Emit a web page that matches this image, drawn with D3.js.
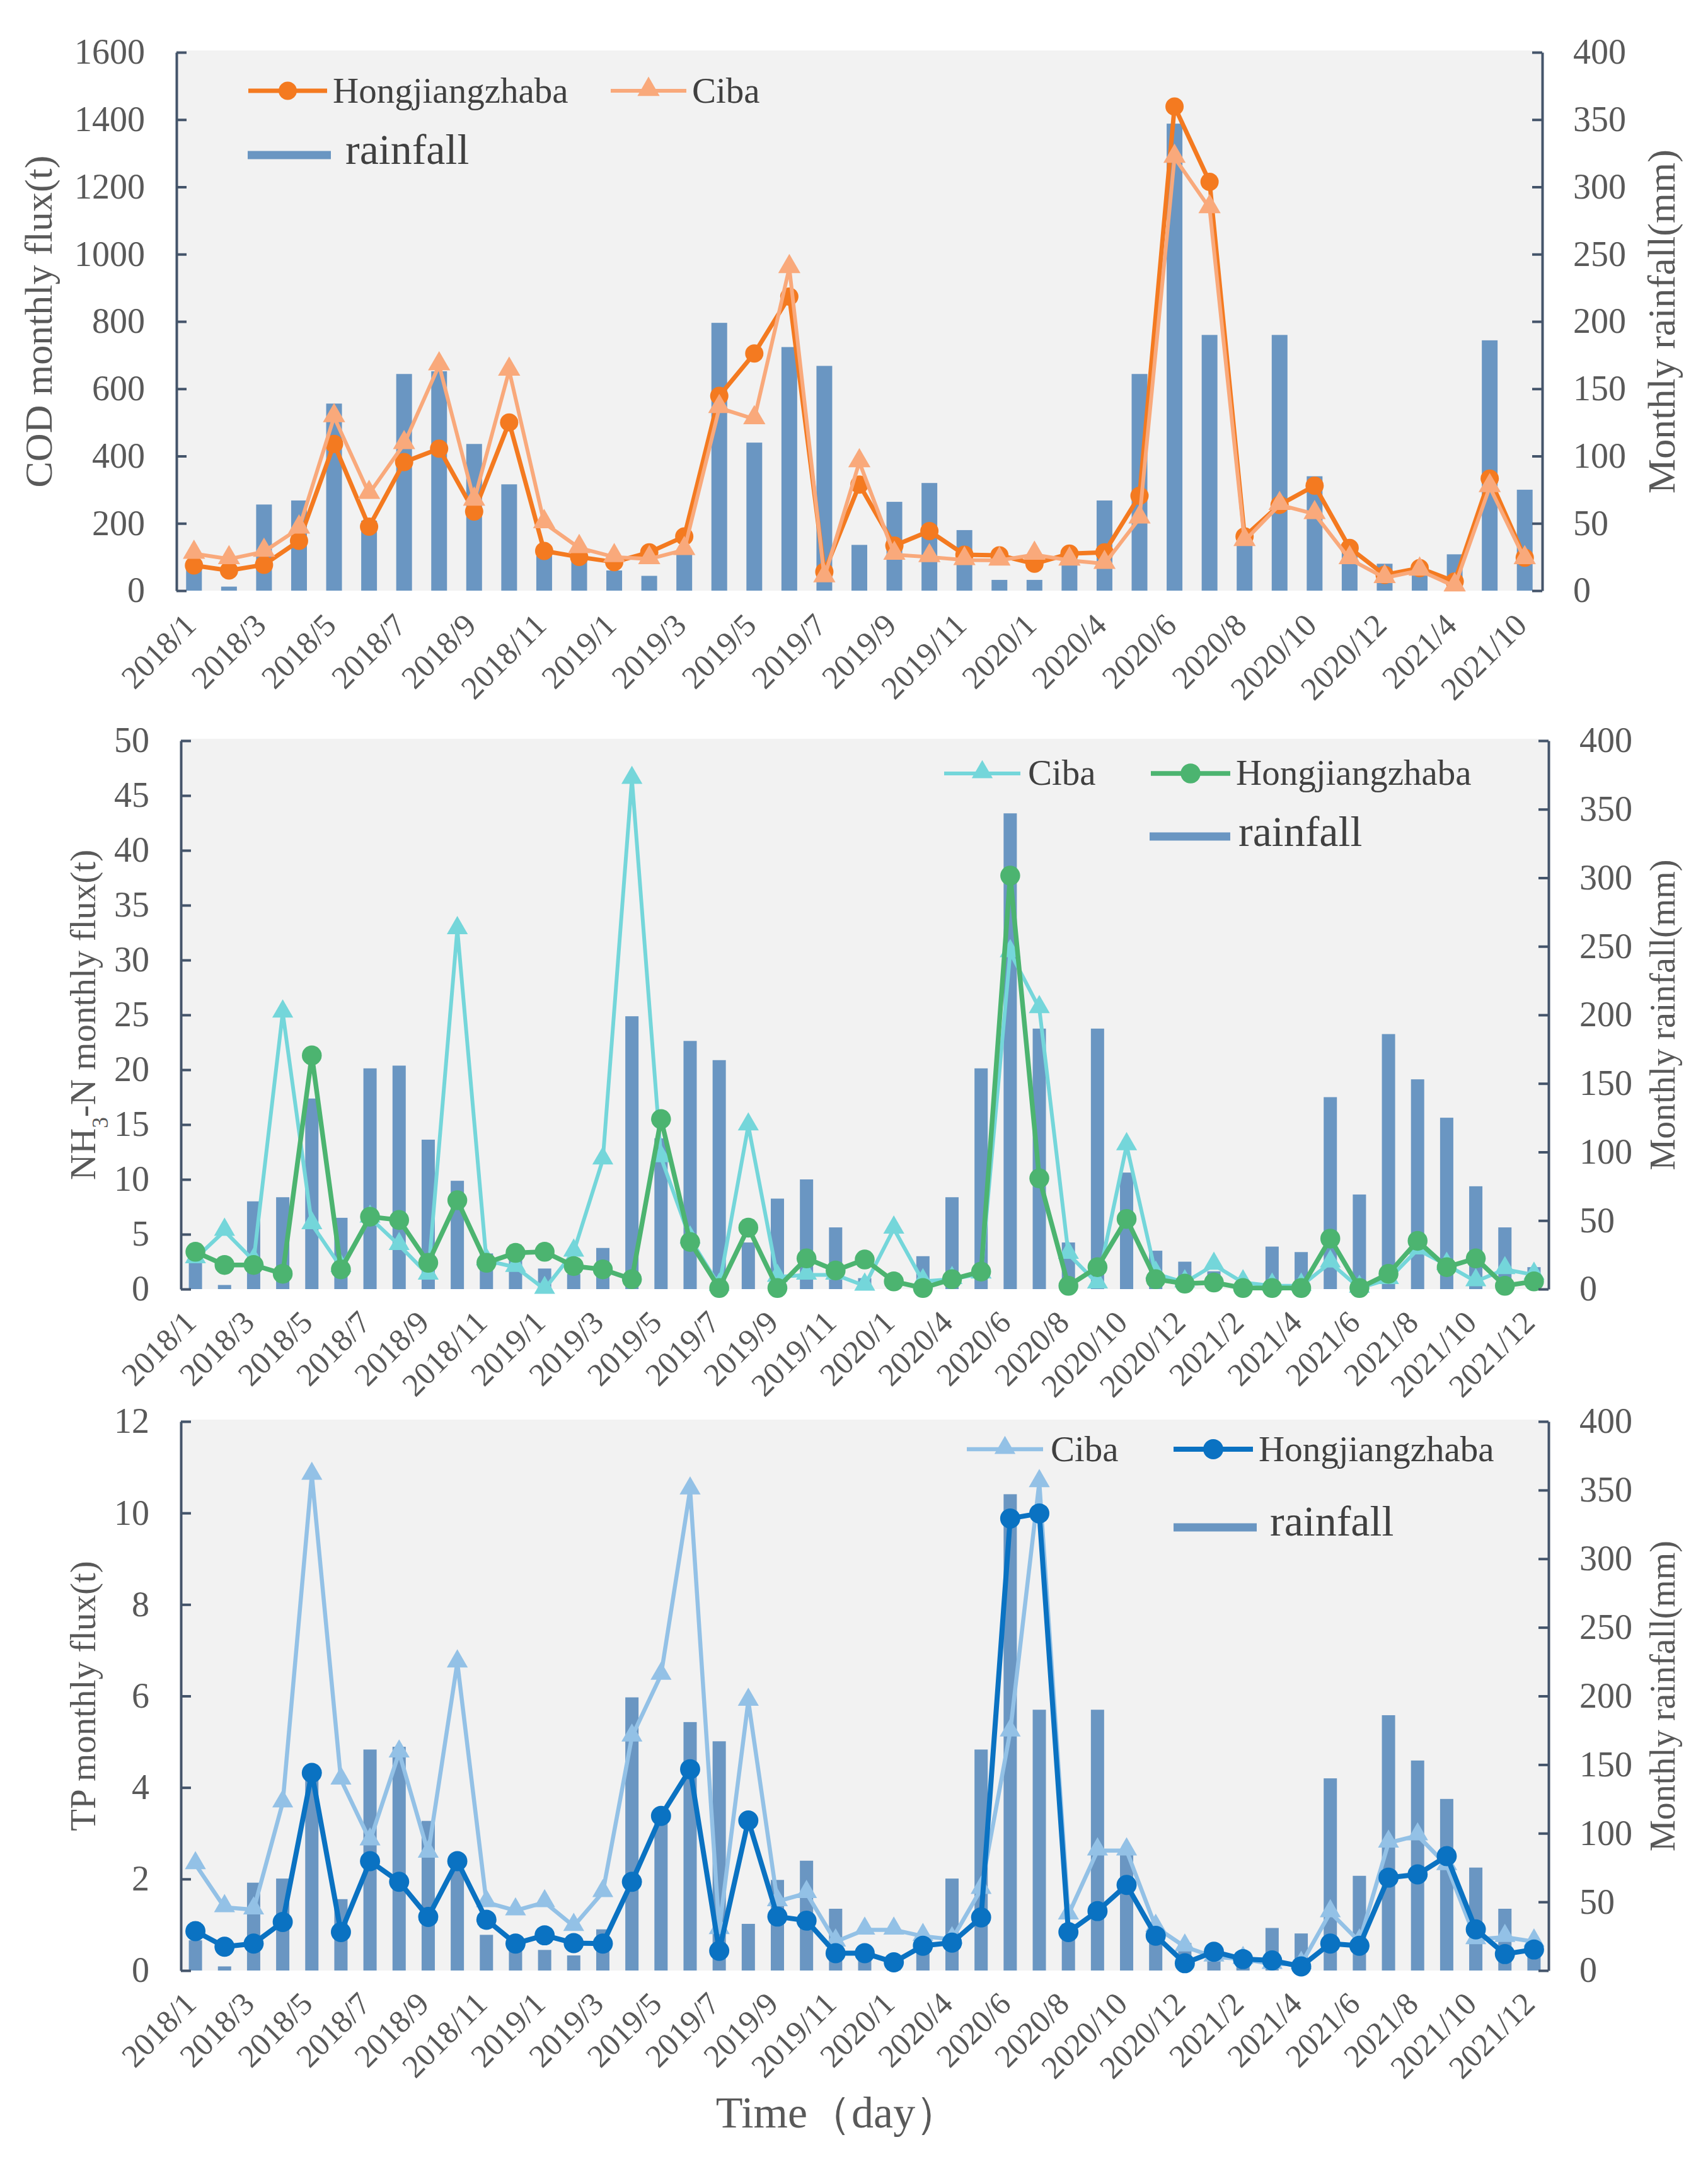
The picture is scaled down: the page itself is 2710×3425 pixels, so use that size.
<!DOCTYPE html>
<html><head><meta charset="utf-8">
<script src="https://cdn.jsdelivr.net/npm/d3@7/dist/d3.min.js"></script>
<style>body{margin:0;background:#fff}svg{display:block}</style>
</head><body>
<svg id="chart" width="2710" height="3425"></svg>
<script>
// ---------------- data ----------------
const months = [
  "2018/1","2018/2","2018/3","2018/4","2018/5","2018/6","2018/7","2018/8","2018/9","2018/10","2018/11","2018/12",
  "2019/1","2019/2","2019/3","2019/4","2019/5","2019/6","2019/7","2019/8","2019/9","2019/10","2019/11","2019/12",
  "2020/1","2020/3","2020/4","2020/5","2020/6","2020/7","2020/8","2020/9","2020/10","2020/11","2020/12",
  "2021/1","2021/2","2021/3","2021/4","2021/5","2021/6","2021/7","2021/8","2021/9","2021/10","2021/11","2021/12"];
const rainfall = [
  22, 3, 64, 67, 139, 52, 161, 163, 109, 79, 26, 25,
  15, 11, 30, 199, 110, 181, 167, 34, 66, 80, 45, 8,
  8, 24, 67, 161, 347, 190, 34, 190, 85, 28, 20,
  13, 3, 31, 27, 140, 69, 186, 153, 125, 75, 45, 16];

const codMonths = [
  "2018/1","2018/2","2018/3","2018/4","2018/5","2018/6","2018/7","2018/8","2018/9","2018/10","2018/11","2018/12",
  "2019/1","2019/2","2019/3","2019/4","2019/5","2019/6","2019/7","2019/8","2019/9","2019/10","2019/11","2019/12",
  "2020/1","2020/3","2020/4","2020/5","2020/6","2020/7","2020/8","2020/9","2020/10","2020/11","2020/12",
  "2021/1","2021/4","2021/7","2021/10"];
const codHong = [
  75, 60, 77, 148, 436, 190, 382, 422, 235, 500, 118, 100,
  85, 114, 161, 579, 705, 874, 56, 315, 134, 177, 107, 105,
  80, 110, 114, 282, 1439, 1215, 161, 255, 312, 127, 47,
  67, 27, 333, 98];
const codCiba = [
  110, 94, 116, 185, 516, 288, 436, 670, 268, 654, 201, 127,
  100, 94, 121, 543, 510, 959, 40, 382, 107, 100, 91, 90,
  107, 90, 80, 215, 1287, 1137, 148, 255, 228, 94, 38,
  60, 13, 308, 94];

const nh3Ciba = [
  2.8, 5.3, 2.6, 25.2, 5.9, 2.0, 6.5, 4.0, 1.3, 32.8, 2.6, 2.0,
  0.0, 3.4, 11.8, 46.5, 12.0, 4.6, 0.3, 14.9, 1.1, 1.3, 1.3, 0.3,
  5.5, 0.7, 0.9, 1.4, 30.7, 25.6, 3.2, 0.5, 13.1, 1.4, 0.6,
  2.2, 0.6, 0.3, 0.3, 2.4, 0.1, 0.9, 3.6, 2.2, 0.7, 1.8, 1.3];
const nh3Hong = [
  3.4, 2.2, 2.2, 1.4, 21.3, 1.8, 6.6, 6.3, 2.4, 8.1, 2.4, 3.3,
  3.4, 2.1, 1.8, 0.9, 15.5, 4.3, 0.1, 5.6, 0.1, 2.8, 1.7, 2.7,
  0.7, 0.1, 0.9, 1.6, 37.7, 10.1, 0.3, 2.0, 6.4, 0.9, 0.5,
  0.6, 0.1, 0.1, 0.1, 4.6, 0.1, 1.4, 4.4, 2.0, 2.8, 0.3, 0.7];

const tpCiba = [
  2.32, 1.38, 1.33, 3.67, 10.83, 4.17, 2.84, 4.76, 2.57, 6.73, 1.49, 1.31,
  1.49, 0.97, 1.71, 5.11, 6.46, 10.51, 0.9, 5.89, 1.51, 1.69, 0.63, 0.89,
  0.89, 0.75, 0.68, 1.78, 5.22, 10.67, 1.22, 2.62, 2.62, 0.95, 0.52,
  0.3, 0.25, 0.14, 0.14, 1.27, 0.63, 2.79, 2.95, 2.3, 0.68, 0.73, 0.63];
const tpHong = [
  0.86, 0.52, 0.59, 1.06, 4.32, 0.84, 2.39, 1.94, 1.17, 2.39, 1.11, 0.59,
  0.77, 0.6, 0.59, 1.94, 3.38, 4.4, 0.43, 3.28, 1.18, 1.09, 0.38, 0.38,
  0.18, 0.54, 0.61, 1.16, 9.88, 9.99, 0.84, 1.3, 1.87, 0.76, 0.16,
  0.41, 0.25, 0.22, 0.09, 0.59, 0.54, 2.03, 2.1, 2.5, 0.9, 0.36, 0.46];

const codTicks = [0, 200, 400, 600, 800, 1000, 1200, 1400, 1600];
const nh3Ticks = [0, 5, 10, 15, 20, 25, 30, 35, 40, 45, 50];
const tpTicks = [0, 2, 4, 6, 8, 10, 12];
const rainTicks = [0, 50, 100, 150, 200, 250, 300, 350, 400];

// ---------------- style ----------------
const FONT = "'Liberation Serif','Times New Roman',serif";
const AXIS = "#44546a", TICKTXT = "#595959", LEGTXT = "#404040";
const BAR = "#6a96c2", BG = "#f2f2f2";

const svg = d3.select("#chart");
svg.append("rect").attr("width", 2710).attr("height", 3425).attr("fill", "#fff");

function rainOf(m) { return rainfall[months.indexOf(m)]; }

function panel(cfg) {
  const g = svg.append("g");
  const x = d3.scaleBand().domain(cfg.cats).range([cfg.left, cfg.right]).padding(0);
  const cx = m => x(m) + x.bandwidth() / 2;
  const yL = d3.scaleLinear().domain([0, cfg.leftMax]).range([cfg.bottom, cfg.top]);
  const yR = d3.scaleLinear().domain([0, 400]).range([cfg.bottom, cfg.top]);

  g.append("rect").attr("x", cfg.left).attr("y", cfg.top - 3)
    .attr("width", cfg.right - cfg.left).attr("height", cfg.bottom - cfg.top + 3).attr("fill", BG);

  // rainfall bars
  g.append("g").selectAll("rect").data(cfg.cats).join("rect")
    .attr("x", d => cx(d) - cfg.barW / 2).attr("width", cfg.barW)
    .attr("y", d => yR(rainOf(d))).attr("height", d => yR(0) - yR(rainOf(d)))
    .attr("fill", BAR);

  // series
  cfg.series.forEach(s => {
    const line = d3.line().x((d, i) => cx(cfg.cats[i])).y(d => yL(d));
    g.append("path").attr("d", line(s.values)).attr("fill", "none")
      .attr("stroke", s.color).attr("stroke-width", s.width).attr("stroke-linejoin", "round");
    g.append("g").selectAll("path").data(s.values).join("path")
      .attr("transform", (d, i) => `translate(${cx(cfg.cats[i])},${yL(d) + (s.symbol === d3.symbolTriangle ? -2 : 0)})`)
      .attr("d", d3.symbol(s.symbol, s.size)()).attr("fill", s.color);
  });

  // axes
  const fmt = d3.format("d");
  const axL = g.append("g").attr("transform", `translate(${cfg.left},0)`)
    .call(d3.axisLeft(yL).tickValues(cfg.leftTicks).tickFormat(fmt).tickSizeInner(-16).tickSizeOuter(0).tickPadding(50));
  const axR = g.append("g").attr("transform", `translate(${cfg.right},0)`)
    .call(d3.axisRight(yR).tickValues(rainTicks).tickFormat(fmt).tickSizeInner(-16).tickSizeOuter(0).tickPadding(49));
  [axL, axR].forEach(a => {
    a.select(".domain").attr("stroke", AXIS).attr("stroke-width", 4);
    a.selectAll(".tick line").attr("stroke", AXIS).attr("stroke-width", 4);
    a.selectAll(".tick text").attr("fill", TICKTXT).style("font-family", FONT).style("font-size", "56px");
  });

  const axB = g.append("g").attr("transform", `translate(0,${cfg.bottom})`)
    .call(d3.axisBottom(x).tickValues(cfg.cats.filter((d, i) => i % 2 === 0)).tickSize(0).tickPadding(0));
  axB.select(".domain").remove();
  axB.selectAll(".tick text")
    .attr("x", 0).attr("y", 0).attr("dy", 0)
    .attr("transform", `translate(${cfg.xdx},${cfg.xdy}) rotate(-45)`)
    .style("text-anchor", "end").attr("fill", TICKTXT)
    .style("font-family", FONT).style("font-size", "51px");

  // axis titles
  const tl = g.append("text").attr("transform", `translate(${cfg.ltX},${(cfg.top + cfg.bottom) / 2}) rotate(-90)`)
    .attr("text-anchor", "middle").attr("fill", TICKTXT)
    .style("font-family", FONT).style("font-size", cfg.ltSize + "px");
  cfg.leftTitle.forEach(p => {
    const t = tl.append("tspan").text(p.t);
    if (p.sub) t.attr("baseline-shift", "sub").style("font-size", (cfg.ltSize * 0.62) + "px");
  });
  g.append("text").attr("transform", `translate(2657,${(cfg.top + cfg.bottom) / 2}) rotate(-90)`)
    .attr("text-anchor", "middle").attr("fill", TICKTXT)
    .style("font-family", FONT).style("font-size", cfg.rtSize + "px").text("Monthly rainfall(mm)");

  // legend
  const lg = g.append("g");
  cfg.legend.forEach(L => {
    if (L.bar) {
      lg.append("rect").attr("x", L.x1).attr("y", L.y - 6.5).attr("width", L.x2 - L.x1).attr("height", 13).attr("fill", BAR);
    } else {
      lg.append("line").attr("x1", L.x1).attr("x2", L.x2).attr("y1", L.y).attr("y2", L.y)
        .attr("stroke", L.s.color).attr("stroke-width", L.s.width);
      lg.append("path").attr("transform", `translate(${(L.x1 + L.x2) / 2},${L.y + (L.s.symbol === d3.symbolTriangle ? -2 : 0)})`)
        .attr("d", d3.symbol(L.s.symbol, L.s.size)()).attr("fill", L.s.color);
    }
    lg.append("text").attr("x", L.tx).attr("y", L.ty).attr("fill", LEGTXT)
      .style("font-family", FONT).style("font-size", L.fs + "px").text(L.label);
  });
}

// ---------------- panel 1: COD ----------------
const sCodHong = { values: codHong, color: "#f47a20", width: 7, symbol: d3.symbolCircle, size: 660 };
const sCodCiba = { values: codCiba, color: "#f9a97b", width: 6, symbol: d3.symbolTriangle, size: 540 };
panel({
  cats: codMonths, left: 280, right: 2447, top: 83, bottom: 937, leftMax: 1600, leftTicks: codTicks,
  barW: 25, xdx: 6, xdy: 58,
  series: [sCodHong, sCodCiba],
  leftTitle: [{ t: "COD monthly flux(t)" }], ltX: 82, ltSize: 62, rtSize: 62,
  legend: [
    { s: sCodHong, x1: 394, x2: 519, y: 144, tx: 528, ty: 163, fs: 57, label: "Hongjiangzhaba" },
    { s: sCodCiba, x1: 969, x2: 1089, y: 144, tx: 1098, ty: 163, fs: 57, label: "Ciba" },
    { bar: true, x1: 393, x2: 525, y: 246, tx: 548, ty: 260, fs: 68, label: "rainfall" }
  ]
});

// ---------------- panel 2: NH3-N ----------------
const sNhCiba = { values: nh3Ciba, color: "#74d6da", width: 6, symbol: d3.symbolTriangle, size: 480 };
const sNhHong = { values: nh3Hong, color: "#4cb470", width: 7.5, symbol: d3.symbolCircle, size: 780 };
panel({
  cats: months, left: 287, right: 2457, top: 1175, bottom: 2045, leftMax: 50, leftTicks: nh3Ticks,
  barW: 21, xdx: 4, xdy: 56,
  series: [sNhCiba, sNhHong],
  leftTitle: [{ t: "NH" }, { t: "3", sub: true }, { t: "-N monthly flux(t)" }], ltX: 151, ltSize: 57, rtSize: 56,
  legend: [
    { s: sNhCiba, x1: 1498, x2: 1619, y: 1227, tx: 1631, ty: 1245, fs: 57, label: "Ciba" },
    { s: sNhHong, x1: 1826, x2: 1952, y: 1227, tx: 1961, ty: 1245, fs: 57, label: "Hongjiangzhaba" },
    { bar: true, x1: 1824, x2: 1952, y: 1327, tx: 1965, ty: 1342, fs: 68, label: "rainfall" }
  ]
});

// ---------------- panel 3: TP ----------------
const sTpCiba = { values: tpCiba, color: "#93c1e6", width: 6.5, symbol: d3.symbolTriangle, size: 480 };
const sTpHong = { values: tpHong, color: "#0a72c2", width: 8, symbol: d3.symbolCircle, size: 800 };
panel({
  cats: months, left: 287, right: 2457, top: 2255, bottom: 3126, leftMax: 12, leftTicks: tpTicks,
  barW: 21, xdx: 4, xdy: 56,
  series: [sTpCiba, sTpHong],
  leftTitle: [{ t: "TP monthly flux(t)" }], ltX: 151, ltSize: 57, rtSize: 56,
  legend: [
    { s: sTpCiba, x1: 1534, x2: 1655, y: 2299, tx: 1667, ty: 2318, fs: 57, label: "Ciba" },
    { s: sTpHong, x1: 1862, x2: 1988, y: 2299, tx: 1997, ty: 2318, fs: 57, label: "Hongjiangzhaba" },
    { bar: true, x1: 1862, x2: 1994, y: 2423, tx: 2015, ty: 2436, fs: 68, label: "rainfall" }
  ]
});

svg.append("text").attr("x", 1329).attr("y", 3375).attr("text-anchor", "middle").attr("fill", TICKTXT)
  .style("font-family", FONT).style("font-size", "70px").text("Time（day）");
</script>
</body></html>
